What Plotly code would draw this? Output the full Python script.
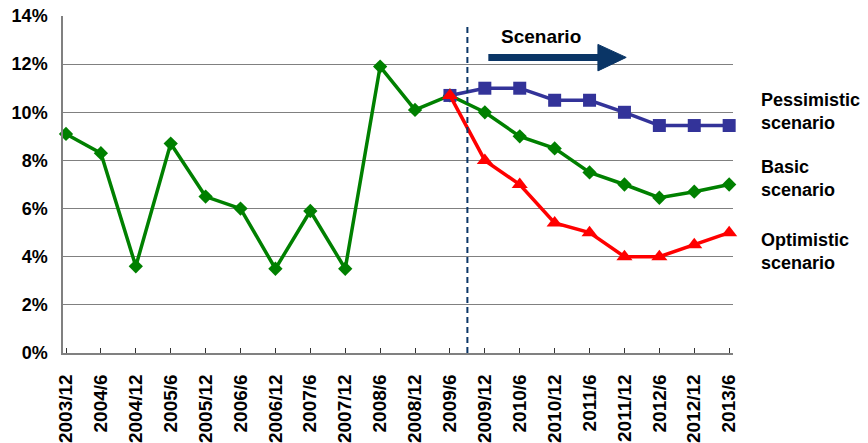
import plotly.graph_objects as go

categories = ["2003/12", "2004/6", "2004/12", "2005/6", "2005/12", "2006/6", "2006/12",
              "2007/6", "2007/12", "2008/6", "2008/12", "2009/6", "2009/12", "2010/6",
              "2010/12", "2011/6", "2011/12", "2012/6", "2012/12", "2013/6"]

basic = [9.1, 8.3, 3.6, 8.7, 6.5, 6.0, 3.5, 5.9, 3.5, 11.9, 10.1, 10.7,
         10.0, 9.0, 8.5, 7.5, 7.0, 6.45, 6.7, 7.0]
pessimistic = [None] * 11 + [10.7, 11.0, 11.0, 10.5, 10.5, 10.0, 9.45, 9.45, 9.45]
optimistic = [None] * 11 + [10.7, 8.0, 7.0, 5.4, 5.0, 4.0, 4.0, 4.5, 5.0]

y_ticks = [0, 2, 4, 6, 8, 10, 12, 14]
y_tick_labels = ["0%", "2%", "4%", "6%", "8%", "10%", "12%", "14%"]

FONT = "Liberation Sans, Arial, sans-serif"
NAVY = "#0a3566"
xs = list(range(len(categories)))

fig = go.Figure()
fig.add_trace(go.Scatter(x=xs, y=basic, mode="lines+markers", cliponaxis=False,
                         line=dict(color="#008000", width=3.5),
                         marker=dict(symbol="diamond", size=11, color="#008000")))
fig.add_trace(go.Scatter(x=xs, y=pessimistic, mode="lines+markers", cliponaxis=False,
                         line=dict(color="#333399", width=3.5),
                         marker=dict(symbol="square", size=13, color="#333399")))
fig.add_trace(go.Scatter(x=xs, y=optimistic, mode="lines+markers", cliponaxis=False,
                         line=dict(color="#FF0000", width=3.5),
                         marker=dict(symbol="triangle-up", size=14, color="#FF0000")))

# dashed separator between history and scenarios
fig.add_shape(type="line", xref="x", yref="y", x0=11.5, x1=11.5, y0=0, y1=13.56,
              line=dict(color=NAVY, width=2, dash="6px,4px"), layer="above")
# scenario arrow
fig.add_shape(type="line", xref="x", yref="y", x0=12.1, x1=15.3, y0=12.28, y1=12.28,
              line=dict(color=NAVY, width=7))
fig.add_shape(type="path", xref="x", yref="y",
              path="M 15.24 12.82 L 16.05 12.28 L 15.24 11.72 Z",
              fillcolor=NAVY, line=dict(color=NAVY, width=1))

fig.add_annotation(x=12.41, y=13.16, xref="x", yref="y", text="Scenario",
                   showarrow=False, xanchor="left", yanchor="middle",
                   font=dict(family=FONT, size=19, color="black", weight="bold"))

for label, yv in [("Pessimistic<br>scenario", 10.05), ("Basic<br>scenario", 7.25),
                  ("Optimistic<br>scenario", 4.22)]:
    fig.add_annotation(x=1.039, y=yv, xref="paper", yref="y", text=label,
                       showarrow=False, xanchor="left", yanchor="middle", align="left",
                       font=dict(family=FONT, size=18, color="black", weight="bold"))

fig.update_layout(
    width=868, height=443,
    margin=dict(l=63, r=135, t=16, b=90, autoexpand=False),
    paper_bgcolor="white", plot_bgcolor="white",
    showlegend=False,
    font=dict(family=FONT, color="black"),
)
fig.update_xaxes(range=[-0.086, 19.11], tickmode="array", tickvals=xs, ticktext=categories,
                 tickangle=-90, ticks="inside", ticklen=5, tickcolor="#333333",
                 showline=True, linecolor="#808080", linewidth=1.5,
                 showgrid=False, zeroline=False, automargin=False,
                 ticklabelstandoff=12,
                 tickfont=dict(family=FONT, size=19, color="black", weight="bold"))
fig.update_yaxes(range=[0, 14], tickmode="array", tickvals=y_ticks, ticktext=y_tick_labels,
                 showline=True, linecolor="#808080", linewidth=1.5,
                 showgrid=True, gridcolor="#808080", gridwidth=1.2,
                 zeroline=False, ticks="", automargin=False,
                 ticklabelstandoff=10,
                 tickfont=dict(family=FONT, size=18, color="black", weight="bold"))

fig.write_html("out.html", config={"displayModeBar": False},
               post_script="document.body.style.margin='0';document.body.style.padding='0';")
